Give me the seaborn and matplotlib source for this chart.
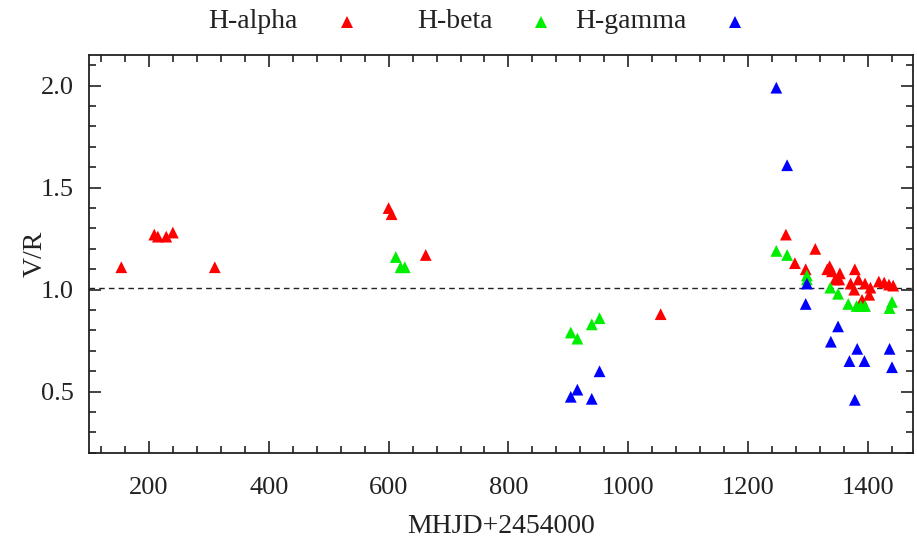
import pandas as pd
import numpy as np
import matplotlib.pyplot as plt
from matplotlib.ticker import MultipleLocator
from matplotlib.lines import Line2D
import seaborn as sns

# data
alpha_x = [154, 209, 215, 229, 240, 310, 600, 605, 662, 1054, 1263, 1278, 1296, 1312,
           1332, 1336, 1340, 1345, 1352, 1353, 1371, 1377, 1378, 1384, 1390, 1395,
           1402, 1404, 1418, 1427, 1435, 1442]
alpha_y = [1.11, 1.27, 1.26, 1.26, 1.28, 1.11, 1.40, 1.37, 1.17, 0.88, 1.27, 1.13, 1.10, 1.20,
           1.10, 1.115, 1.09, 1.05, 1.05, 1.08, 1.03, 1.00, 1.10, 1.05, 0.95, 1.03,
           0.975, 1.01, 1.04, 1.035, 1.025, 1.02]

beta_x = [612, 620, 627, 904, 915, 939, 952, 1247, 1265, 1298, 1298, 1337, 1350, 1367,
          1381, 1388, 1395, 1436, 1440]
beta_y = [1.16, 1.11, 1.11, 0.79, 0.76, 0.83, 0.86, 1.19, 1.17, 1.07, 1.05, 1.01, 0.98, 0.93,
          0.92, 0.92, 0.92, 0.91, 0.94]

gamma_x = [904, 915, 939, 952, 1247, 1265, 1296, 1298, 1338, 1350, 1369, 1378, 1382, 1394,
           1436, 1440]
gamma_y = [0.475, 0.51, 0.465, 0.60, 1.99, 1.61, 0.93, 1.03, 0.745, 0.82, 0.65, 0.46, 0.71, 0.65,
           0.71, 0.62]

ref_level = 1.01
lines = ['H-alpha', 'H-beta', 'H-gamma']
colors = {'H-alpha': '#ff0000', 'H-beta': '#00ee00', 'H-gamma': '#0000ff'}

df = pd.concat([
    pd.DataFrame({'MHJD': alpha_x, 'VR': alpha_y, 'line': 'H-alpha'}),
    pd.DataFrame({'MHJD': beta_x, 'VR': beta_y, 'line': 'H-beta'}),
    pd.DataFrame({'MHJD': gamma_x, 'VR': gamma_y, 'line': 'H-gamma'}),
])

sns.set_style("ticks")
plt.rcParams['font.family'] = ['Liberation Serif', 'DejaVu Serif']
ink = '#222222'

fig, ax = plt.subplots(figsize=(9.17, 5.45), dpi=100)
fig.subplots_adjust(left=0.097, right=0.9956, top=0.899, bottom=0.169)

sns.scatterplot(data=df, x='MHJD', y='VR', hue='line', palette=colors, marker='^',
                s=72, linewidth=0, legend=False, ax=ax, zorder=3)
ax.axhline(ref_level, color=ink, linestyle=(0, (4, 3)), linewidth=1)

ax.set_xlim(100, 1475)
ax.set_ylim(0.2, 2.15)
ax.xaxis.set_major_locator(MultipleLocator(200))
ax.xaxis.set_minor_locator(MultipleLocator(40))
ax.yaxis.set_major_locator(MultipleLocator(0.5))
ax.yaxis.set_minor_locator(MultipleLocator(0.1))
ax.yaxis.set_major_formatter(plt.FormatStrFormatter('%.1f'))

ax.tick_params(which='both', direction='in', top=True, right=True, colors=ink,
               labelsize=19, width=1.2)
ax.tick_params(which='major', length=8.5)
ax.tick_params(which='minor', length=5)
ax.tick_params(axis='x', which='major', pad=17)
ax.tick_params(axis='y', which='major', pad=11)
for sp in ax.spines.values():
    sp.set_linewidth(1.3)
    sp.set_color(ink)

ax.set_xlabel('MHJD+2454000', fontsize=20, color=ink, labelpad=11)
ax.set_ylabel('V/R', fontsize=20, color=ink, labelpad=-5)

# gnuplot-like key: text right-aligned, marker after it, fixed column width
W, H = fig.get_size_inches() * fig.dpi
text_right = [298, 493, 687]
marker_x = [347, 541, 735]
for lab, xr, xm in zip(lines, text_right, marker_x):
    fig.text(xr / W, 1 - 21 / H, lab, ha='right', va='center', fontsize=20, color=ink)
    fig.add_artist(Line2D([xm / W], [1 - 22 / H], transform=fig.transFigure, marker='^',
                          linestyle='none', color=colors[lab], markersize=8.5,
                          markeredgewidth=0))

plt.savefig("out.png", dpi=100)
